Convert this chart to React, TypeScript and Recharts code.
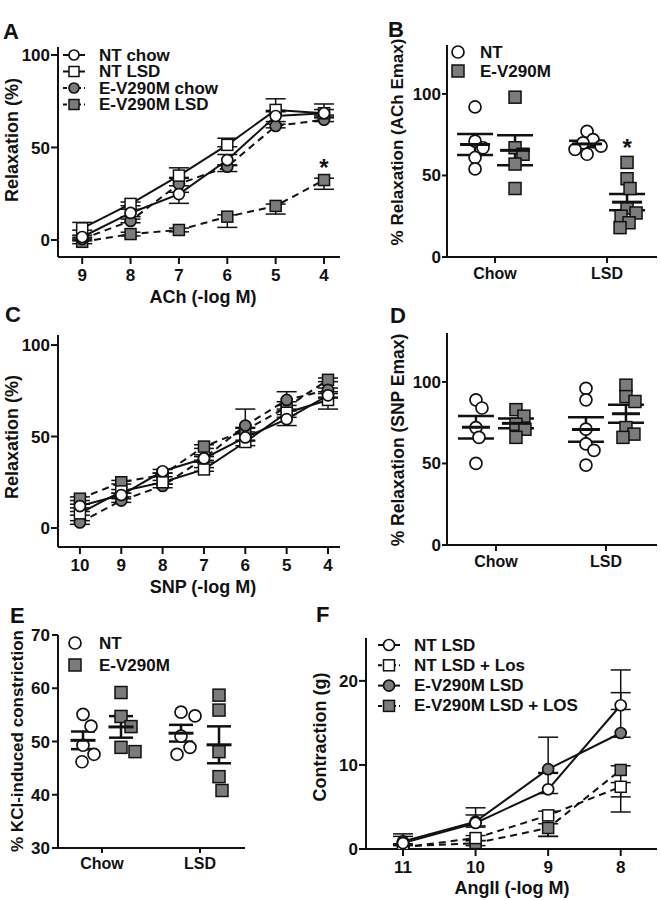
import React from "react";
import {
  ErrorBar,
  Legend,
  Line,
  LineChart,
  ReferenceDot,
  Scatter,
  ScatterChart,
  XAxis,
  YAxis,
} from "recharts";

const W = 661;
const H = 900;
const FONT = "'Liberation Sans', Arial, Helvetica, sans-serif";
const INK = "#111";
const GREY = "#7b7b7b";

// A: ACh concentration-response, x = -log M
const achDoses = [9, 8, 7, 6, 5, 4];
const achNtChow = [1.6, 14.6, 24.8, 43.2, 67, 68.5];
const achNtLsd = [6.3, 19.5, 34.8, 51.4, 70.3, 68.5];
const achEChow = [0.5, 10.3, 30.3, 39.6, 61.6, 65];
const achELsd = [-1, 3.2, 5.4, 12.6, 18.4, 32.4];
// error as [below, above]
const achNtChowErr = [[1, 1], [2, 2], [5, 1], [3, 3], [3, 3], [2, 5]];
const achNtLsdErr = [[1, 3.2], [1, 1], [1, 4.2], [1, 3.6], [1, 6], [1, 2]];
const achEChowErr = [[1, 1], [1, 1], [1, 3], [2.6, 1], [1, 1], [1, 1]];
const achELsdErr = [[1, 1], [1, 1], [1, 1], [5.8, 1], [4.4, 1], [5, 1]];

// C: SNP concentration-response
const snpDoses = [10, 9, 8, 7, 6, 5, 4];
const snpNtChow = [12, 18, 31, 38, 49.5, 59.5, 72.5];
const snpNtLsd = [8, 20, 25, 32, 47, 63, 70];
const snpEChow = [3, 15, 23, 38, 56, 70, 75.5];
const snpELsd = [16, 25, 29, 44.5, 53.5, 66, 81];
const snpNtChowErr = [[1, 1], [1, 1], [1, 1], [2, 2], [2, 2], [3.5, 1], [1, 1]];
const snpNtLsdErr = [[1, 1], [1, 1], [1, 1], [1, 1], [2, 1], [1, 1], [5, 1]];
const snpEChowErr = [[1, 1], [1, 1], [1, 1], [1, 1], [1, 9], [1, 4.5], [1, 1]];
const snpELsdErr = [[1, 1], [1, 1], [1, 1], [1, 1], [1, 1], [1, 1], [1, 1]];

// F: AngII contraction
const angDoses = [11, 10, 9, 8];
const angNtLsd = [0.7, 3.1, 7.1, 17.1];
const angNtLos = [0.2, 1.3, 4.0, 7.4];
const angELsd = [0.9, 3.25, 9.5, 13.8];
const angELos = [0.3, 0.7, 2.5, 9.4];
const angNtLsdErr = [[0.3, 0.8], [0.5, 1.8], [0.5, 2], [0.5, 4.2]];
const angNtLosErr = [[0.2, 0.3], [0.3, 0.3], [2.5, 0.5], [3, 0.5]];
const angELsdErr = [[0.3, 0.9], [0.5, 0.8], [0.5, 3.8], [0.5, 4.8]];
const angELosErr = [[0.3, 0.3], [0.3, 0.3], [1, 0.5], [3.2, 0.5]];

// B: ACh Emax per animal
const achEmaxNtChow = [92, 71, 67, 61, 54];
const achEmaxEChow = [98, 67, 63, 57, 42];
const achEmaxNtLsd = [77, 72, 70, 68, 66, 63];
const achEmaxELsd = [58, 48, 42, 30, 27, 25, 21, 18];

// D: SNP Emax per animal
const snpEmaxNtChow = [89, 84, 72, 66, 50];
const snpEmaxEChow = [83, 79, 74, 71, 66];
const snpEmaxNtLsd = [96, 89, 71, 62, 58, 49];
const snpEmaxELsd = [98, 91, 88, 72, 68, 66];

// E: KCl constriction per animal
const kclNtChow = [55.1, 52.9, 49.3, 47.6, 46.2];
const kclEChow = [59.2, 54.7, 52.8, 48.9, 48.1];
const kclNtLsd = [55.5, 54.8, 51, 48.9, 47.6];
const kclELsd = [58.7, 55.9, 48.1, 43.4, 40.8];

const dietLabels = ["Chow", "LSD"];
const groupLegend = ["NT", "E-V290M"];

type Box = { l: number; t: number; r: number; b: number };
type Look = { shape: "circle" | "square"; filled: boolean; dashed: boolean };
type CurveSeries = Look & { name: string; values: number[]; err: number[][] };
type Group = Look & { values: number[]; cat: number; side: number };
type LegendSpec = { x: number; y: number; dy: number; textX: number; line: boolean; size: number };
type Title = { text: string; x: number; y: number; vertical?: boolean; size?: number };

const tickStyle = { fill: INK, fontSize: 17, fontWeight: 700, fontFamily: FONT };
const catTickStyle = { fill: INK, fontSize: 16, fontWeight: 700, fontFamily: FONT };
const axisStyle = { stroke: INK, strokeWidth: 2 };

const mean = (a: number[]) => a.reduce((s, v) => s + v, 0) / a.length;
const sem = (a: number[]) => {
  const m = mean(a);
  return Math.sqrt(a.reduce((s, v) => s + (v - m) ** 2, 0) / (a.length - 1)) / Math.sqrt(a.length);
};

// simple beeswarm: pixel offsets so markers don't pile up
function swarm(values: number[], pxPerY: number, diam: number): number[] {
  const order = values.map((_, i) => i).sort((a, b) => values[b] - values[a]);
  const placed: { x: number; y: number }[] = [];
  const out = values.map(() => 0);
  order.forEach((i) => {
    const y = values[i] * pxPerY;
    let x = 0;
    for (let step = 0; step < 80; step++) {
      const cand = step === 0 ? 0 : (step % 2 === 1 ? 1 : -1) * Math.ceil(step / 2);
      if (placed.every((p) => Math.hypot(p.x - cand, p.y - y) >= diam)) {
        x = cand;
        break;
      }
    }
    placed.push({ x, y });
    out[i] = x;
  });
  return out;
}

function Glyph({ cx, cy, shape, filled, size }: { cx?: number; cy?: number; shape: string; filled: boolean; size: number }) {
  if (cx == null || cy == null || Number.isNaN(cx) || Number.isNaN(cy)) return null;
  const fill = filled ? GREY : "#fff";
  if (shape === "circle") {
    return <circle cx={cx} cy={cy} r={size / 2} fill={fill} stroke={INK} strokeWidth={1.7} />;
  }
  return <rect x={cx - size / 2} y={cy - size / 2} width={size} height={size} fill={fill} stroke={INK} strokeWidth={1.5} />;
}

const titleContent = (t: Title) => () => (
  <text
    x={t.x}
    y={t.y}
    transform={t.vertical ? `rotate(-90 ${t.x} ${t.y})` : undefined}
    textAnchor="middle"
    dominantBaseline="central"
    fontFamily={FONT}
    fontSize={t.size ?? 18}
    fontWeight={700}
    fill={INK}
  >
    {t.text}
  </text>
);

const starLabel = (dy: number) => (p: any) => {
  const vb = p.viewBox || { x: 0, y: 0, width: 0, height: 0 };
  return (
    <text x={vb.x + vb.width / 2} y={vb.y + vb.height / 2 + dy} textAnchor="middle" fontFamily={FONT} fontSize={24} fontWeight={700} fill={INK}>
      *
    </text>
  );
};

function LegendBox({ items, spec }: { items: (Look & { name: string })[]; spec: LegendSpec }) {
  const left = spec.x - 16;
  const top = spec.y - 12;
  return (
    <svg width={300} height={spec.dy * items.length + 14} style={{ display: "block", overflow: "visible" }}>
      {items.map((it, i) => {
        const cx = spec.x - left;
        const cy = spec.y + i * spec.dy - top;
        return (
          <g key={it.name}>
            {spec.line && (
              <line x1={cx - 11} x2={cx + 11} y1={cy} y2={cy} stroke={INK} strokeWidth={2} strokeDasharray={it.dashed ? "4 3" : undefined} />
            )}
            <Glyph cx={cx} cy={cy} shape={it.shape} filled={it.filled} size={spec.size} />
            <text x={spec.textX - left} y={cy} dominantBaseline="central" fontFamily={FONT} fontSize={17} fontWeight={700} fill={INK}>
              {it.name}
            </text>
          </g>
        );
      })}
    </svg>
  );
}

function ChartLegend({ items, spec }: { items: (Look & { name: string })[]; spec: LegendSpec }) {
  return (
    <Legend
      layout="vertical"
      align="center"
      verticalAlign="middle"
      wrapperStyle={{ left: spec.x - 16, top: spec.y - 12, width: 300, height: spec.dy * items.length + 14 }}
      content={() => <LegendBox items={items} spec={spec} />}
    />
  );
}

function CurvePanel(props: {
  box: Box;
  doses: number[];
  xDomain: [number, number];
  yDomain: [number, number];
  yTicks: number[];
  series: CurveSeries[];
  legend?: LegendSpec;
  xTitle: Title;
  yTitle: Title;
  star?: { dose: number; value: number; dy: number };
}) {
  const { box, doses, series } = props;
  const rows = doses.map((d, i) => {
    const row: Record<string, number | number[]> = { dose: d };
    series.forEach((s, k) => {
      row[`v${k}`] = s.values[i];
      row[`e${k}`] = s.err[i];
    });
    return row;
  });
  const drawOrder = series.map((s, k) => ({ s, k })).reverse();
  return (
    <div style={{ position: "absolute", left: 0, top: 0 }}>
      <LineChart width={W} height={H} data={rows} margin={{ top: box.t, right: W - box.r, bottom: 0, left: 0 }}>
        <XAxis
          dataKey="dose"
          type="number"
          domain={props.xDomain}
          reversed
          allowDataOverflow
          ticks={doses}
          interval={0}
          height={H - box.b}
          tickSize={7}
          tickMargin={5}
          tick={tickStyle}
          axisLine={axisStyle}
          tickLine={axisStyle}
          label={{ content: titleContent(props.xTitle) }}
        />
        <YAxis
          type="number"
          domain={props.yDomain}
          allowDataOverflow
          ticks={props.yTicks}
          interval={0}
          width={box.l}
          tickSize={7}
          tickMargin={1}
          tick={tickStyle}
          axisLine={axisStyle}
          tickLine={axisStyle}
          label={{ content: titleContent(props.yTitle) }}
        />
        {drawOrder.map(({ s, k }) => (
          <Line
            key={s.name}
            dataKey={`v${k}`}
            stroke={INK}
            strokeWidth={2}
            strokeDasharray={s.dashed ? "7 5" : undefined}
            activeDot={false}
            isAnimationActive={false}
            dot={(p: any) => <Glyph key={`m${k}-${p.index}`} cx={p.cx} cy={p.cy} shape={s.shape} filled={s.filled} size={11} />}
          >
            <ErrorBar dataKey={`e${k}`} direction="y" width={10} stroke={INK} strokeWidth={1.5} />
          </Line>
        ))}
        {props.star && (
          <ReferenceDot x={props.star.dose} y={props.star.value} r={0} fill="none" stroke="none" label={starLabel(props.star.dy)} />
        )}
        {props.legend && <ChartLegend items={series} spec={props.legend} />}
      </LineChart>
    </div>
  );
}

function DotPanel(props: {
  box: Box;
  xDomain: [number, number];
  yDomain: [number, number];
  yTicks: number[];
  groups: Group[];
  spread: number;
  gap: number;
  meanHalf: number;
  cap: number;
  size: number;
  xTick: { size: number; margin: number };
  yTick: { size: number; margin: number };
  legend?: LegendSpec;
  yTitle: Title;
  star?: { group: number; dy: number };
}) {
  const { box, xDomain, yDomain } = props;
  const pxPerX = (box.r - box.l) / (xDomain[1] - xDomain[0]);
  const pxPerY = (box.b - box.t) / (yDomain[1] - yDomain[0]);
  const laid = props.groups.map((g) => {
    const center = g.cat + (g.side * props.spread) / pxPerX;
    const offs = swarm(g.values, pxPerY, props.gap);
    return {
      g,
      center,
      points: g.values.map((v, i) => ({ x: center + offs[i] / pxPerX, y: v })),
      stat: [{ x: center, y: mean(g.values), sem: sem(g.values) }],
    };
  });
  const legendItems = props.groups.slice(0, 2).map((g, i) => ({ ...g, name: groupLegend[i] }));
  const starGroup = props.star ? laid[props.star.group] : null;
  return (
    <div style={{ position: "absolute", left: 0, top: 0 }}>
      <ScatterChart width={W} height={H} margin={{ top: box.t, right: W - box.r, bottom: 0, left: 0 }}>
        <XAxis
          dataKey="x"
          type="number"
          domain={xDomain}
          allowDataOverflow
          ticks={[1, 2]}
          interval={0}
          tickFormatter={(v: number) => dietLabels[Math.round(v) - 1]}
          height={H - box.b}
          tickSize={props.xTick.size}
          tickMargin={props.xTick.margin}
          tick={catTickStyle}
          axisLine={axisStyle}
          tickLine={axisStyle}
        />
        <YAxis
          dataKey="y"
          type="number"
          domain={yDomain}
          allowDataOverflow
          ticks={props.yTicks}
          interval={0}
          width={box.l}
          tickSize={props.yTick.size}
          tickMargin={props.yTick.margin}
          tick={tickStyle}
          axisLine={axisStyle}
          tickLine={axisStyle}
          label={{ content: titleContent(props.yTitle) }}
        />
        {laid.map(({ g, points }, k) => (
          <Scatter
            key={`pts${k}`}
            data={points}
            isAnimationActive={false}
            shape={(p: any) => <Glyph cx={p.cx} cy={p.cy} shape={g.shape} filled={g.filled} size={props.size} />}
          />
        ))}
        {laid.map(({ stat }, k) => (
          <Scatter
            key={`stat${k}`}
            data={stat}
            isAnimationActive={false}
            shape={(p: any) => (
              <line x1={p.cx - props.meanHalf} x2={p.cx + props.meanHalf} y1={p.cy} y2={p.cy} stroke={INK} strokeWidth={3} />
            )}
          >
            <ErrorBar dataKey="sem" direction="y" width={props.cap} stroke={INK} strokeWidth={2.5} />
          </Scatter>
        ))}
        {starGroup && props.star && (
          <ReferenceDot
            x={starGroup.center}
            y={Math.max(...starGroup.g.values)}
            r={0}
            fill="none"
            stroke="none"
            label={starLabel(props.star.dy)}
          />
        )}
        {props.legend && <ChartLegend items={legendItems} spec={props.legend} />}
      </ScatterChart>
    </div>
  );
}

const ntOpen = { shape: "circle" as const, filled: false, dashed: false };
const ntSq = { shape: "square" as const, filled: false, dashed: false };
const evCirc = { shape: "circle" as const, filled: true, dashed: true };
const evSq = { shape: "square" as const, filled: true, dashed: true };

const achSeries: CurveSeries[] = [
  { name: "NT chow", values: achNtChow, err: achNtChowErr, ...ntOpen },
  { name: "NT LSD", values: achNtLsd, err: achNtLsdErr, ...ntSq },
  { name: "E-V290M chow", values: achEChow, err: achEChowErr, ...evCirc },
  { name: "E-V290M LSD", values: achELsd, err: achELsdErr, ...evSq },
];

const snpSeries: CurveSeries[] = [
  { name: "NT chow", values: snpNtChow, err: snpNtChowErr, ...ntOpen },
  { name: "NT LSD", values: snpNtLsd, err: snpNtLsdErr, ...ntSq },
  { name: "E-V290M chow", values: snpEChow, err: snpEChowErr, ...evCirc },
  { name: "E-V290M LSD", values: snpELsd, err: snpELsdErr, ...evSq },
];

const angSeries: CurveSeries[] = [
  { name: "NT LSD", values: angNtLsd, err: angNtLsdErr, ...ntOpen },
  { name: "NT LSD + Los", values: angNtLos, err: angNtLosErr, shape: "square", filled: false, dashed: true },
  { name: "E-V290M LSD", values: angELsd, err: angELsdErr, shape: "circle", filled: true, dashed: false },
  { name: "E-V290M LSD + LOS", values: angELos, err: angELosErr, ...evSq },
];

const dotGroups = (ntChow: number[], eChow: number[], ntLsd: number[], eLsd: number[]): Group[] => [
  { values: ntChow, cat: 1, side: -1, ...ntOpen },
  { values: eChow, cat: 1, side: 1, ...evSq },
  { values: ntLsd, cat: 2, side: -1, ...ntOpen },
  { values: eLsd, cat: 2, side: 1, ...evSq },
];

const panelLetters = [
  { t: "A", x: 3, y: 39 },
  { t: "B", x: 388, y: 37 },
  { t: "C", x: 5, y: 322 },
  { t: "D", x: 390, y: 323 },
  { t: "E", x: 10, y: 623 },
  { t: "F", x: 316, y: 622 },
];

export default function App() {
  return (
    <div style={{ position: "absolute", left: 0, top: 0, width: W, height: H, background: "#fff", fontFamily: FONT }}>
      <CurvePanel
        box={{ l: 58, t: 47, r: 340, b: 257 }}
        doses={achDoses}
        xDomain={[3.67, 9.5]}
        yDomain={[-9.2, 104.3]}
        yTicks={[0, 50, 100]}
        series={achSeries}
        legend={{ x: 74, y: 55, dy: 16.5, textX: 99, line: true, size: 10 }}
        xTitle={{ text: "ACh (-log M)", x: 203, y: 297 }}
        yTitle={{ text: "Relaxation (%)", x: 12, y: 140, vertical: true }}
        star={{ dose: 4, value: achELsd[5], dy: -4 }}
      />
      <CurvePanel
        box={{ l: 58, t: 335, r: 340, b: 547 }}
        doses={snpDoses}
        xDomain={[3.71, 10.53]}
        yDomain={[-10.4, 105.5]}
        yTicks={[0, 50, 100]}
        series={snpSeries}
        xTitle={{ text: "SNP (-log M)", x: 203, y: 587 }}
        yTitle={{ text: "Relaxation (%)", x: 12, y: 437, vertical: true }}
      />
      <CurvePanel
        box={{ l: 366, t: 638, r: 657, b: 849 }}
        doses={angDoses}
        xDomain={[7.5, 11.51]}
        yDomain={[0, 25.1]}
        yTicks={[0, 10, 20]}
        series={angSeries}
        legend={{ x: 389, y: 645, dy: 20.3, textX: 414, line: true, size: 11 }}
        xTitle={{ text: "AngII (-log M)", x: 512, y: 888 }}
        yTitle={{ text: "Contraction (g)", x: 320, y: 737, vertical: true }}
      />
      <DotPanel
        box={{ l: 447, t: 45, r: 657, b: 257 }}
        xDomain={[0.571, 2.446]}
        yDomain={[0, 130]}
        yTicks={[0, 50, 100]}
        groups={dotGroups(achEmaxNtChow, achEmaxEChow, achEmaxNtLsd, achEmaxELsd)}
        spread={20}
        gap={10}
        meanHalf={15}
        cap={18}
        size={12}
        xTick={{ size: 6, margin: 5 }}
        yTick={{ size: 5, margin: 1 }}
        legend={{ x: 458, y: 52, dy: 19, textX: 480, line: false, size: 12 }}
        yTitle={{ text: "% Relaxation (ACh Emax)", x: 397, y: 142, vertical: true, size: 17 }}
        star={{ group: 3, dy: -6 }}
      />
      <DotPanel
        box={{ l: 447, t: 333, r: 657, b: 545 }}
        xDomain={[0.555, 2.464]}
        yDomain={[0, 130]}
        yTicks={[0, 50, 100]}
        groups={dotGroups(snpEmaxNtChow, snpEmaxEChow, snpEmaxNtLsd, snpEmaxELsd)}
        spread={20}
        gap={10}
        meanHalf={14}
        cap={18}
        size={12}
        xTick={{ size: 6, margin: 5 }}
        yTick={{ size: 5, margin: 1 }}
        yTitle={{ text: "% Relaxation (SNP Emax)", x: 398, y: 440, vertical: true, size: 17.5 }}
      />
      <DotPanel
        box={{ l: 58, t: 635, r: 245, b: 848 }}
        xDomain={[0.551, 2.459]}
        yDomain={[30, 70]}
        yTicks={[30, 40, 50, 60, 70]}
        groups={dotGroups(kclNtChow, kclEChow, kclNtLsd, kclELsd)}
        spread={19}
        gap={14}
        meanHalf={12.5}
        cap={12}
        size={12}
        xTick={{ size: 5, margin: 5 }}
        yTick={{ size: 6, margin: 2 }}
        legend={{ x: 75, y: 643, dy: 22, textX: 99, line: false, size: 12 }}
        yTitle={{ text: "% KCl-induced constriction", x: 17, y: 741, vertical: true, size: 17 }}
      />
      <svg width={W} height={H} style={{ position: "absolute", left: 0, top: 0, pointerEvents: "none" }}>
        {panelLetters.map((p) => (
          <text key={p.t} x={p.x} y={p.y} fontFamily={FONT} fontSize={22} fontWeight={700} fill={INK}>
            {p.t}
          </text>
        ))}
      </svg>
    </div>
  );
}
